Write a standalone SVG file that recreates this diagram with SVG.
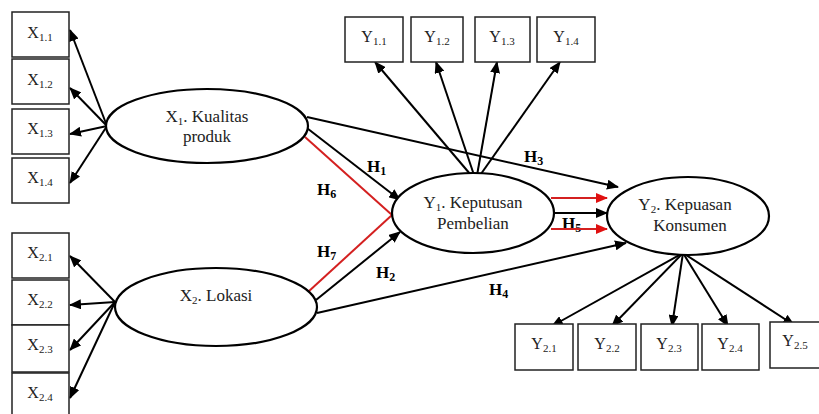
<svg xmlns="http://www.w3.org/2000/svg" width="819" height="414" viewBox="0 0 819 414">
<style>
.box{fill:#fff;stroke:#222;stroke-width:1.5}
.ell{fill:#fff;stroke:#000;stroke-width:2.2}
.t{font-family:"Liberation Serif","Times New Roman",serif;font-size:16px;fill:#222;text-anchor:middle}
.e{font-size:17px}
.s{font-size:11px}
.h{font-family:"Liberation Serif","Times New Roman",serif;font-size:17px;font-weight:bold;fill:#000}
.hs{font-size:12px}
.ln{stroke:#000;stroke-width:2;fill:none}
.red{stroke:#d42020;stroke-width:2;fill:none}
</style>
<defs>
<marker id="ab" markerUnits="userSpaceOnUse" markerWidth="12" markerHeight="10" refX="11" refY="5" orient="auto"><path d="M0,0 L12,5 L0,10 z" fill="#000"/></marker>
<marker id="ar" markerUnits="userSpaceOnUse" markerWidth="12" markerHeight="10" refX="11" refY="5" orient="auto"><path d="M0,0 L12,5 L0,10 z" fill="#e01010"/></marker>
</defs>
<rect width="819" height="414" fill="#fff"/>
<g id="connectors">
<line class="ln" x1="107" y1="126" x2="70" y2="30" marker-end="url(#ab)"/>
<line class="ln" x1="107" y1="126" x2="70" y2="88" marker-end="url(#ab)"/>
<line class="ln" x1="107" y1="126" x2="70" y2="134" marker-end="url(#ab)"/>
<line class="ln" x1="107" y1="126" x2="70" y2="183" marker-end="url(#ab)"/>
<line class="ln" x1="115" y1="302" x2="70" y2="256" marker-end="url(#ab)"/>
<line class="ln" x1="115" y1="302" x2="70" y2="305" marker-end="url(#ab)"/>
<line class="ln" x1="115" y1="302" x2="70" y2="350" marker-end="url(#ab)"/>
<line class="ln" x1="115" y1="302" x2="70" y2="398" marker-end="url(#ab)"/>
<line class="ln" x1="476" y1="181" x2="375" y2="62" marker-end="url(#ab)"/>
<line class="ln" x1="476" y1="181" x2="436" y2="62" marker-end="url(#ab)"/>
<line class="ln" x1="476" y1="181" x2="497" y2="62" marker-end="url(#ab)"/>
<line class="ln" x1="476" y1="181" x2="560" y2="62" marker-end="url(#ab)"/>
<line class="ln" x1="683" y1="253" x2="552" y2="326" marker-end="url(#ab)"/>
<line class="ln" x1="683" y1="253" x2="612" y2="326" marker-end="url(#ab)"/>
<line class="ln" x1="683" y1="253" x2="672" y2="326" marker-end="url(#ab)"/>
<line class="ln" x1="683" y1="253" x2="728" y2="326" marker-end="url(#ab)"/>
<line class="ln" x1="683" y1="253" x2="794" y2="325" marker-end="url(#ab)"/>
<line class="ln" x1="303" y1="125" x2="400" y2="200" marker-end="url(#ab)"/>
<line class="red" x1="305" y1="137" x2="392" y2="215"/>
<line class="red" x1="308" y1="292" x2="392" y2="215"/>
<line class="ln" x1="316" y1="300" x2="400" y2="232" marker-end="url(#ab)"/>
<line class="ln" x1="307" y1="117" x2="618" y2="187" marker-end="url(#ab)"/>
<line class="ln" x1="317" y1="313" x2="626" y2="243" marker-end="url(#ab)"/>
<line class="red" x1="551" y1="198" x2="607" y2="198" marker-end="url(#ar)"/>
<line class="ln" x1="555" y1="213" x2="607" y2="213" marker-end="url(#ab)"/>
</g>
<g id="labels">
<text class="h" x="367" y="172">H<tspan class="hs" dy="3">1</tspan></text>
<text class="h" x="317" y="195">H<tspan class="hs" dy="3">6</tspan></text>
<text class="h" x="317" y="257">H<tspan class="hs" dy="3">7</tspan></text>
<text class="h" x="376" y="278">H<tspan class="hs" dy="3">2</tspan></text>
<text class="h" x="524" y="162">H<tspan class="hs" dy="3">3</tspan></text>
<text class="h" x="489" y="295">H<tspan class="hs" dy="3">4</tspan></text>
<text class="h" x="562" y="229">H<tspan class="hs" dy="3">5</tspan></text>
</g>
<g id="X1_1"><rect class="box" x="12" y="12" width="57" height="45"/><text class="t" x="40" y="38">X<tspan class="s" dy="3">1.1</tspan></text></g>
<g id="X1_2"><rect class="box" x="12" y="59" width="57" height="45"/><text class="t" x="40" y="85">X<tspan class="s" dy="3">1.2</tspan></text></g>
<g id="X1_3"><rect class="box" x="12" y="109" width="57" height="45"/><text class="t" x="40" y="134">X<tspan class="s" dy="3">1.3</tspan></text></g>
<g id="X1_4"><rect class="box" x="12" y="158" width="57" height="45"/><text class="t" x="40" y="183">X<tspan class="s" dy="3">1.4</tspan></text></g>
<g id="X2_1"><rect class="box" x="12" y="233" width="57" height="45"/><text class="t" x="40" y="258">X<tspan class="s" dy="3">2.1</tspan></text></g>
<g id="X2_2"><rect class="box" x="12" y="280" width="57" height="45"/><text class="t" x="40" y="305">X<tspan class="s" dy="3">2.2</tspan></text></g>
<g id="X2_3"><rect class="box" x="12" y="325" width="57" height="47"/><text class="t" x="40" y="350">X<tspan class="s" dy="3">2.3</tspan></text></g>
<g id="X2_4"><rect class="box" x="12" y="373" width="57" height="45"/><text class="t" x="40" y="398">X<tspan class="s" dy="3">2.4</tspan></text></g>
<g id="Y1_1"><rect class="box" x="345" y="17" width="58" height="45"/><text class="t" x="374" y="42">Y<tspan class="s" dy="3">1.1</tspan></text></g>
<g id="Y1_2"><rect class="box" x="411" y="17" width="52" height="45"/><text class="t" x="437" y="42">Y<tspan class="s" dy="3">1.2</tspan></text></g>
<g id="Y1_3"><rect class="box" x="475" y="17" width="55" height="45"/><text class="t" x="502" y="42">Y<tspan class="s" dy="3">1.3</tspan></text></g>
<g id="Y1_4"><rect class="box" x="537" y="17" width="58" height="45"/><text class="t" x="566" y="42">Y<tspan class="s" dy="3">1.4</tspan></text></g>
<g id="Y2_1"><rect class="box" x="515" y="324" width="58" height="46"/><text class="t" x="544" y="349">Y<tspan class="s" dy="3">2.1</tspan></text></g>
<g id="Y2_2"><rect class="box" x="578" y="324" width="58" height="46"/><text class="t" x="607" y="349">Y<tspan class="s" dy="3">2.2</tspan></text></g>
<g id="Y2_3"><rect class="box" x="641" y="324" width="57" height="46"/><text class="t" x="669" y="349">Y<tspan class="s" dy="3">2.3</tspan></text></g>
<g id="Y2_4"><rect class="box" x="702" y="324" width="57" height="46"/><text class="t" x="730" y="349">Y<tspan class="s" dy="3">2.4</tspan></text></g>
<g id="Y2_5"><rect class="box" x="770" y="322" width="60" height="46"/><text class="t" x="795" y="346">Y<tspan class="s" dy="3">2.5</tspan></text></g>
<g id="X1"><ellipse class="ell" cx="207" cy="126" rx="101" ry="37"/><text class="t e" x="207" y="122">X<tspan class="s" dy="3">1</tspan><tspan dy="-3">. Kualitas</tspan></text><text class="t e" x="207" y="142">produk</text></g>
<g id="X2"><ellipse class="ell" cx="216" cy="307" rx="101" ry="39"/><text class="t e" x="216" y="301">X<tspan class="s" dy="3">2</tspan><tspan dy="-3">. Lokasi</tspan></text></g>
<g id="Y1"><ellipse class="ell" cx="473" cy="213" rx="81" ry="40"/><text class="t e" x="473" y="208">Y<tspan class="s" dy="3">1</tspan><tspan dy="-3">. Keputusan</tspan></text><text class="t e" x="473" y="229">Pembelian</text></g>
<g id="Y2"><ellipse class="ell" cx="688" cy="216" rx="81" ry="39"/><text class="t e" x="685" y="210">Y<tspan class="s" dy="3">2</tspan><tspan dy="-3">. Kepuasan</tspan></text><text class="t e" x="690" y="231">Konsumen</text></g>
<g id="H5red"><line class="red" x1="551" y1="229" x2="607" y2="229" marker-end="url(#ar)"/></g>
</svg>
